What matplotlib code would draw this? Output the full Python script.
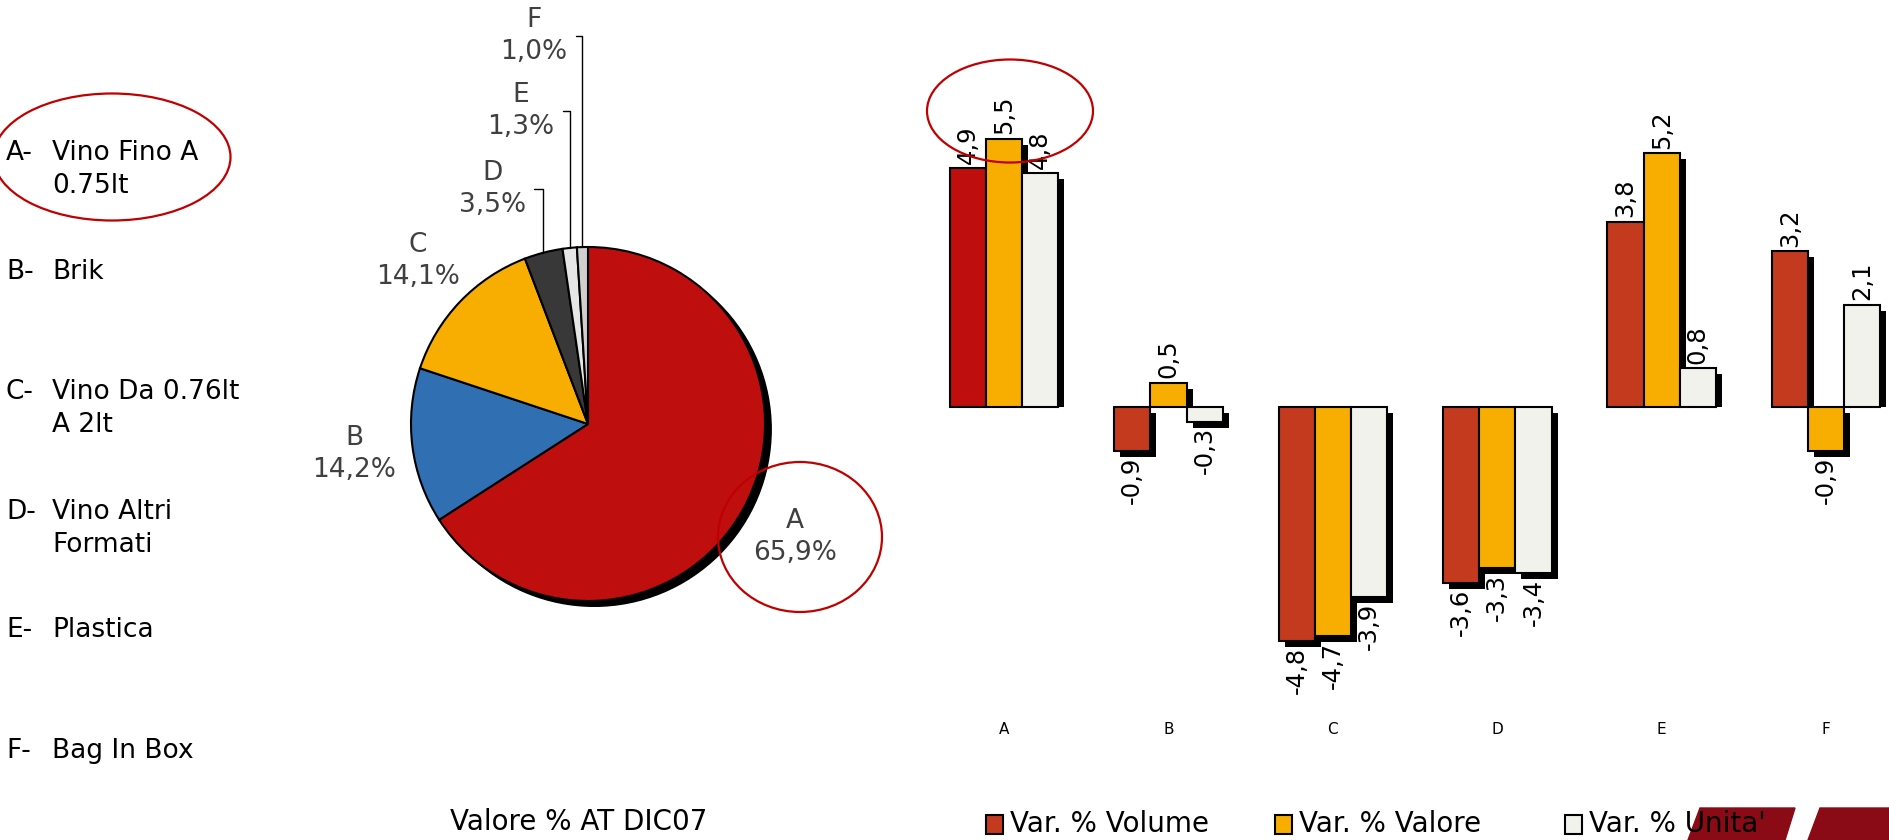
import numpy as np
import matplotlib
matplotlib.use("Agg")
import matplotlib.pyplot as plt
from matplotlib.patches import Ellipse, Rectangle, Circle, Polygon

plt.rcParams["font.family"] = ["DejaVu Sans"]

W, H = 1890, 840

# data
categories = ["A", "B", "C", "D", "E", "F"]
descriptions = ["Vino Fino A\n0.75lt", "Brik", "Vino Da 0.76lt\nA 2lt",
                "Vino Altri\nFormati", "Plastica", "Bag In Box"]
share = [65.9, 14.2, 14.1, 3.5, 1.3, 1.0]
var_volume = [4.9, -0.9, -4.8, -3.6, 3.8, 3.2]
var_valore = [5.5, 0.5, -4.7, -3.3, 5.2, -0.9]
var_unita = [4.8, -0.3, -3.9, -3.4, 0.8, 2.1]
series_names = ["Var. % Volume", "Var. % Valore", "Var. % Unita'"]
pie_title = "Valore % AT DIC07"

# styles
pie_colors = ["#BE0E0E", "#306FB2", "#F8AE00", "#383838", "#E6E6E6", "#D0D0D0"]
volume_colors = ["#BE0E0E", "#C33A1F", "#C33A1F", "#C33A1F", "#C33A1F", "#C33A1F"]
series_colors = ["#C33A1F", "#F8AE00", "#F2F2EC"]
ring = "#C00000"


def fx(x):
    return x / W


def fy(y):
    return 1 - y / H


fig = plt.figure(figsize=(W / 100, H / 100), dpi=100)

# left legend
row_y = [153, 272, 392, 512, 630, 751]
for cat, desc, y in zip(categories, descriptions, row_y):
    fig.text(fx(6), fy(y), cat + "-", fontsize=19, va="center")
    for i, line in enumerate(desc.split("\n")):
        fig.text(fx(52), fy(y + 33 * i), line, fontsize=19, va="center")

# pie
R = 177
pax = fig.add_axes([fx(588 - R), fy(424 + R), 2 * R / W, 2 * R / H])
pax.add_patch(Circle((0.035, -0.03), 1, color="black", zorder=0, clip_on=False))
wedges, _ = pax.pie(share, colors=pie_colors, startangle=90, counterclock=False,
                    radius=1, wedgeprops=dict(edgecolor="black", linewidth=1.5))
for w in wedges:
    w.set_clip_on(False)
pax.set_xlim(-1, 1)
pax.set_ylim(-1, 1)
pax.axis("off")

small_pos = [(-0.542, 1.328), (-0.379, 1.768), (-0.305, 2.192)]
for i, w in enumerate(wedges):
    th = np.deg2rad((w.theta1 + w.theta2) / 2)
    label = "%s\n%s%%" % (categories[i], ("%.1f" % share[i]).replace(".", ","))
    if i < 3:
        pax.text(1.33 * np.cos(th), 1.33 * np.sin(th), label, ha="center", va="center",
                 fontsize=19, color="#404040", linespacing=1.3)
    else:
        pax.annotate(label, xy=(np.cos(th), np.sin(th)), xytext=small_pos[i - 3],
                     ha="center", va="center", fontsize=19, color="#404040",
                     linespacing=1.3, annotation_clip=False,
                     arrowprops=dict(arrowstyle="-", color="black", lw=1,
                                     connectionstyle="angle,angleA=0,angleB=90,rad=0",
                                     shrinkA=4, shrinkB=0))

# bars
bax = fig.add_axes([fx(900), fy(716), (1890 - 900) / W, (716 - 60) / H])
xlim = (-0.633, 5.389)
ylim = (-6.33, 7.11)
bax.set_xlim(*xlim)
bax.set_ylim(*ylim)
dx = 6 * (xlim[1] - xlim[0]) / 990
dy = 6 * (ylim[1] - ylim[0]) / 656

x = np.arange(len(categories))
bw = 0.22
series = [(var_volume, volume_colors), (var_valore, [series_colors[1]] * 6),
          (var_unita, [series_colors[2]] * 6)]
for j, (vals, cols) in enumerate(series):
    xs = x + (j - 1) * bw
    for xi, v in zip(xs, vals):
        if v > 0:
            bax.bar(xi + dx, v - dy, bw, bottom=0, color="black", zorder=1)
        else:
            bax.bar(xi + dx, v, bw, bottom=-dy, color="black", zorder=1)
    bax.bar(xs, vals, bw, color=cols, edgecolor="black", linewidth=1.5, zorder=3)
    for xi, v in zip(xs, vals):
        bax.annotate(("%.1f" % v).replace(".", ","), (xi, v),
                     xytext=(0, 3 if v > 0 else -4), textcoords="offset points",
                     rotation=90, ha="center", va="bottom" if v > 0 else "top",
                     fontsize=17.5)

bax.set_xticks(x, categories)
bax.set_yticks([])
bax.tick_params(axis="x", length=0, labelsize=11, pad=4)
for s in bax.spines.values():
    s.set_visible(False)
bax.patch.set_alpha(0)

# red rings
for cx, cy, w, h in [(112, 157, 237, 127), (800, 537, 164, 150), (1010, 111, 166, 103)]:
    fig.add_artist(Ellipse((fx(cx), fy(cy)), w / W, h / H, fill=False,
                           edgecolor=ring, linewidth=1.6, transform=fig.transFigure))

# logo fragment
for pts in [[(1688, 840), (1700, 808), (1795, 808), (1785, 840)],
            [(1808, 840), (1820, 808), (1890, 808), (1890, 840)]]:
    fig.add_artist(Polygon([(fx(a), fy(b)) for a, b in pts], closed=True,
                           color="#8A0B16", transform=fig.transFigure, zorder=0))

# bottom texts
fig.text(fx(450), fy(822), pie_title, fontsize=20, va="center")
for name, col, lx in zip(series_names, series_colors, [986, 1275, 1565]):
    fig.add_artist(Rectangle((fx(lx), fy(834)), 17 / W, 19 / H, facecolor=col,
                             edgecolor="black", linewidth=1.5, transform=fig.transFigure))
    fig.text(fx(lx + 24), fy(824), name, fontsize=20, va="center")

fig.savefig("out.png", dpi=100)
